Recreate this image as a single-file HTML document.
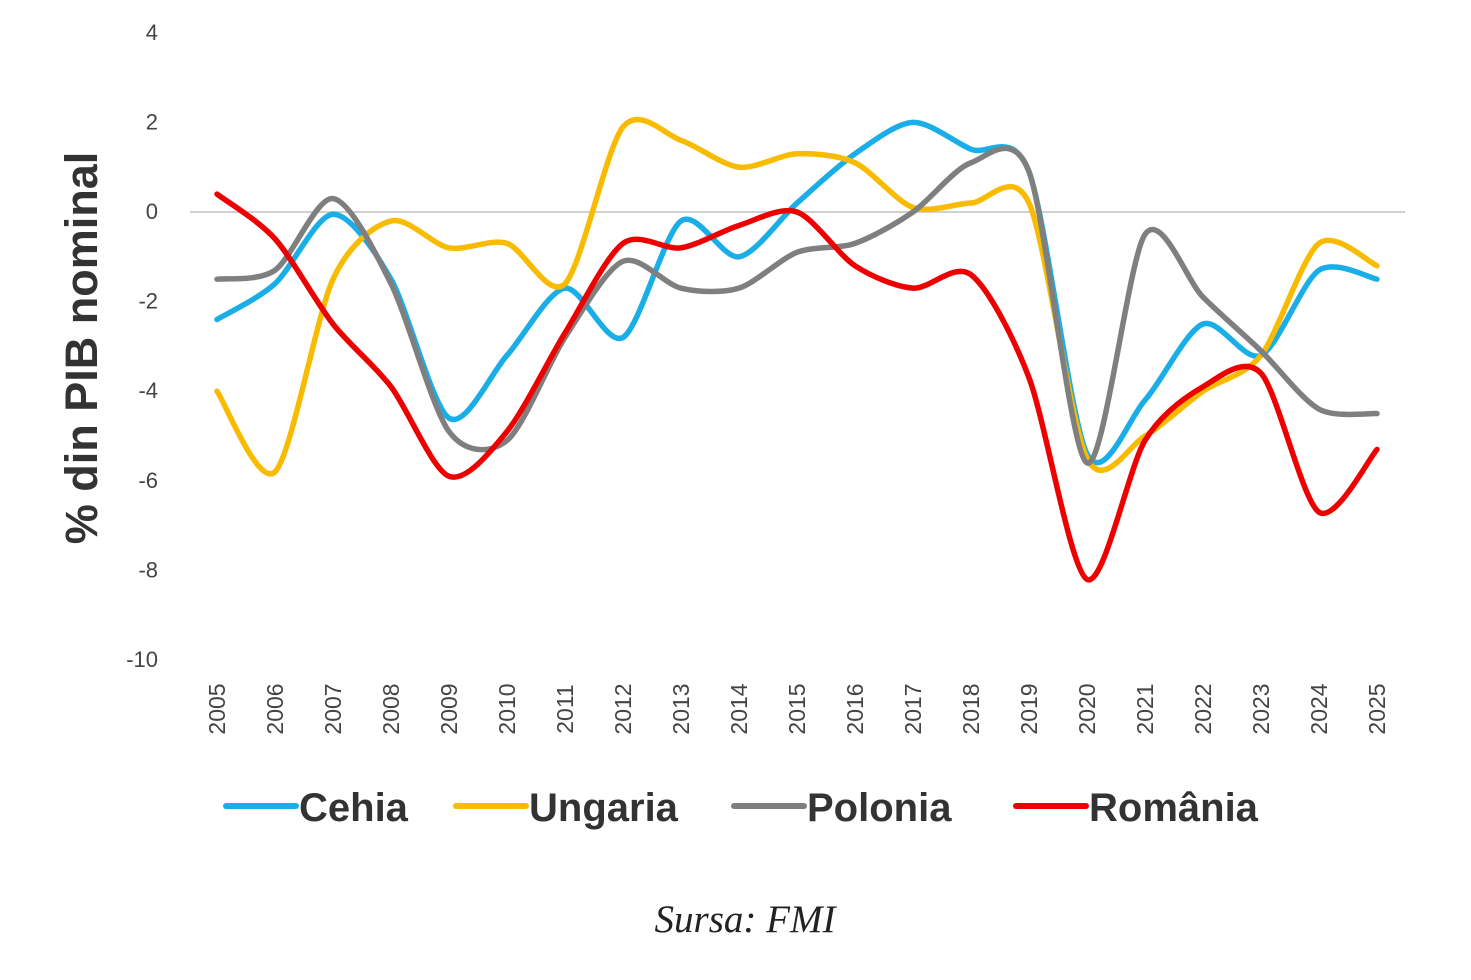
<!DOCTYPE html>
<html><head><meta charset="utf-8"><style>
body{margin:0;background:#fff;}
svg{display:block;font-family:"Liberation Sans",sans-serif;}
</style></head><body>
<svg id="chart" width="1471" height="980">
<g id="grid"></g><g id="yt"></g><g id="xt"></g><g id="lines"></g>
<text transform="translate(97,348) rotate(-90)" text-anchor="middle" font-size="45" font-weight="bold" fill="#333">% din PIB nominal</text>
<g id="legend"></g>
<text x="745" y="932" text-anchor="middle" font-family="Liberation Serif,serif" font-style="italic" font-size="39" fill="#222">Sursa: FMI</text>
</svg>
<script>
const years=[2005,2006,2007,2008,2009,2010,2011,2012,2013,2014,2015,2016,2017,2018,2019,2020,2021,2022,2023,2024,2025];
const yTicks=[4,2,0,-2,-4,-6,-8,-10];
const seriesNames=["Cehia","Ungaria","Polonia","România"];
const cehia=[-2.4,-1.6,-0.05,-1.5,-4.6,-3.2,-1.7,-2.8,-0.2,-1.0,0.2,1.3,2.0,1.4,0.9,-5.4,-4.2,-2.5,-3.2,-1.3,-1.5];
const ungaria=[-4.0,-5.8,-1.5,-0.2,-0.8,-0.7,-1.6,1.9,1.6,1.0,1.3,1.1,0.1,0.2,0.2,-5.5,-5.0,-4.0,-3.2,-0.7,-1.2];
const polonia=[-1.5,-1.3,0.3,-1.6,-4.9,-5.1,-2.8,-1.1,-1.7,-1.7,-0.9,-0.7,0.0,1.1,0.9,-5.6,-0.5,-1.9,-3.1,-4.4,-4.5];
const romania=[0.4,-0.6,-2.5,-3.9,-5.9,-4.9,-2.7,-0.7,-0.8,-0.3,0.0,-1.2,-1.7,-1.4,-3.7,-8.2,-5.1,-3.9,-3.6,-6.7,-5.3];
const colors=["#1aaee8","#f8bb00","#7f7f7f","#ee0000"];
const allSeries=[cehia,ungaria,polonia,romania];
const NS="http://www.w3.org/2000/svg";
const x=i=>217+i*58;
const y=v=>212-v*44.8;
function mk(tag,attrs,parent){const e=document.createElementNS(NS,tag);for(const k in attrs)e.setAttribute(k,attrs[k]);parent.appendChild(e);return e;}
const grid=document.getElementById('grid');
const zl=mk('line',{x1:190,x2:1405,y1:y(0),y2:y(0),stroke:'#d0d0d0','stroke-width':2},grid);


const yt=document.getElementById('yt');
yTicks.forEach(v=>{const t=mk('text',{x:158,y:y(v)+7,'text-anchor':'end','font-size':22,fill:'#444'},yt);t.textContent=v;

});
const xt=document.getElementById('xt');
years.forEach((yr,i)=>{const t=mk('text',{transform:`translate(${x(i)+8},709) rotate(-90)`,'text-anchor':'middle','font-size':23,fill:'#444'},xt);t.textContent=yr;

});
function smooth(vals){const p=vals.map((v,i)=>[x(i),y(v)]);let d=`M${p[0][0]},${p[0][1]}`;const f=7;
for(let i=0;i<p.length-1;i++){const p0=p[i-1]||p[i],p1=p[i],p2=p[i+1],p3=p[i+2]||p2;
const c1=[p1[0]+(p2[0]-p0[0])/f,p1[1]+(p2[1]-p0[1])/f],c2=[p2[0]-(p3[0]-p1[0])/f,p2[1]-(p3[1]-p1[1])/f];
d+=` C${c1[0]},${c1[1]} ${c2[0]},${c2[1]} ${p2[0]},${p2[1]}`;}return d;}
const lines=document.getElementById('lines');
allSeries.forEach((s,k)=>{const p=mk('path',{d:smooth(s),fill:'none',stroke:colors[k],'stroke-width':5.5,'stroke-linecap':'round','stroke-linejoin':'round'},lines);

});
const lg=document.getElementById('legend');
const lx=[226,456,734,1016];
seriesNames.forEach((n,k)=>{const g=mk('g',{},lg);


mk('line',{x1:lx[k],x2:lx[k]+70,y1:806,y2:806,stroke:colors[k],'stroke-width':6,'stroke-linecap':'round'},g);
const t=mk('text',{x:lx[k]+73,y:821,'font-size':40,'font-weight':'bold',fill:'#333'},g);t.textContent=n;});
</script>
</body></html>
